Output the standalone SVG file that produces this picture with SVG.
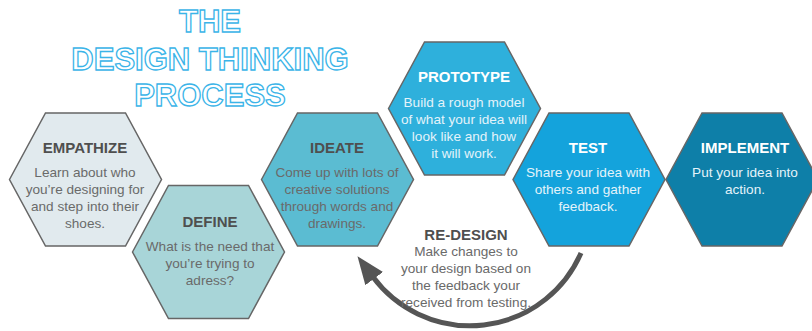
<svg xmlns="http://www.w3.org/2000/svg" xmlns:xlink="http://www.w3.org/1999/xlink" width="812" height="331" viewBox="0 0 812 331">
  <style>
    .hex { stroke: #666666; stroke-width: 1.5; stroke-linejoin: miter; }
    .heading { font-family: "Liberation Sans", Arial, sans-serif; font-size: 31px; font-weight: bold; fill: #ffffff; stroke: #3ab4e8; stroke-width: 1.3; text-anchor: middle; }
    .t { font-family: "Liberation Sans", Arial, sans-serif; font-size: 15px; font-weight: bold; text-anchor: middle; }
    .b { font-family: "Liberation Sans", Arial, sans-serif; font-size: 13.6px; text-anchor: middle; }
    .dark-t { fill: #4f4f4f; }
    .dark-b { fill: #6a6a6a; }
    .light-t { fill: #ffffff; }
    .light-b { fill: #e4f3fa; }
    .arrow { fill: none; stroke: #555555; stroke-width: 5; }
  </style>
  <defs>
    <polygon id="hex" points="-76,0 -40,-66.5 40,-66.5 76,0 40,66.5 -40,66.5"/>
    <marker id="head" viewBox="0 -11 28 22" refX="2" refY="0" markerWidth="28" markerHeight="22" markerUnits="userSpaceOnUse" orient="auto">
      <path d="M0,-11 L28,0 L0,11 z" fill="#555555"/>
    </marker>
  </defs>
  <rect width="812" height="331" fill="#ffffff"/>

  <g id="title">
    <text class="heading" x="210" y="32">THE</text>
    <text class="heading" x="210" y="70">DESIGN THINKING</text>
    <text class="heading" x="210" y="106">PROCESS</text>
  </g>

  <g id="connectors">
    <path class="arrow" d="M581,253 A121,121 0 0 1 373,277" marker-end="url(#head)"/>
  </g>

  <g id="empathize">
    <use xlink:href="#hex" href="#hex" x="85.5" y="179.5" class="hex" fill="#e1eaee"/>
    <text class="t dark-t" x="85" y="153">EMPATHIZE</text>
    <text class="b dark-b" x="85" y="177">Learn about who</text>
    <text class="b dark-b" x="85" y="194">you’re designing for</text>
    <text class="b dark-b" x="85" y="211">and step into their</text>
    <text class="b dark-b" x="85" y="228">shoes.</text>
  </g>

  <g id="define">
    <use xlink:href="#hex" href="#hex" x="208.5" y="252" class="hex" fill="#a8d5d8"/>
    <text class="t dark-t" x="210" y="227">DEFINE</text>
    <text class="b dark-b" x="210" y="251">What is the need that</text>
    <text class="b dark-b" x="210" y="268">you’re trying to</text>
    <text class="b dark-b" x="210" y="285">adress?</text>
  </g>

  <g id="ideate">
    <use xlink:href="#hex" href="#hex" x="337.5" y="179.5" class="hex" fill="#5bbcd2"/>
    <text class="t dark-t" x="337" y="153">IDEATE</text>
    <text class="b dark-b" x="337" y="177">Come up with lots of</text>
    <text class="b dark-b" x="337" y="194">creative solutions</text>
    <text class="b dark-b" x="337" y="211">through words and</text>
    <text class="b dark-b" x="337" y="228">drawings.</text>
  </g>

  <g id="prototype">
    <use xlink:href="#hex" href="#hex" x="464.5" y="108.5" class="hex" fill="#2eb0dc"/>
    <text class="t light-t" x="464" y="82">PROTOTYPE</text>
    <text class="b light-b" x="464" y="107">Build a rough model</text>
    <text class="b light-b" x="464" y="124">of what your idea will</text>
    <text class="b light-b" x="464" y="141">look like and how</text>
    <text class="b light-b" x="464" y="158">it will work.</text>
  </g>

  <g id="test">
    <use xlink:href="#hex" href="#hex" x="589" y="179.5" class="hex" fill="#14a3dc"/>
    <text class="t light-t" x="588" y="153">TEST</text>
    <text class="b light-b" x="588" y="177">Share your idea with</text>
    <text class="b light-b" x="588" y="194">others and gather</text>
    <text class="b light-b" x="588" y="211">feedback.</text>
  </g>

  <g id="implement">
    <use xlink:href="#hex" href="#hex" x="742" y="179.5" class="hex" fill="#0e7fa8"/>
    <text class="t light-t" x="745" y="153">IMPLEMENT</text>
    <text class="b light-b" x="745" y="177">Put your idea into</text>
    <text class="b light-b" x="745" y="194">action.</text>
  </g>

  <g id="redesign">
    <text class="t dark-t" x="466" y="240">RE-DESIGN</text>
    <text class="b dark-b" x="466" y="256">Make changes to</text>
    <text class="b dark-b" x="466" y="273">your design based on</text>
    <text class="b dark-b" x="466" y="290">the feedback your</text>
    <text class="b dark-b" x="466" y="307">received from testing.</text>
  </g>
</svg>
